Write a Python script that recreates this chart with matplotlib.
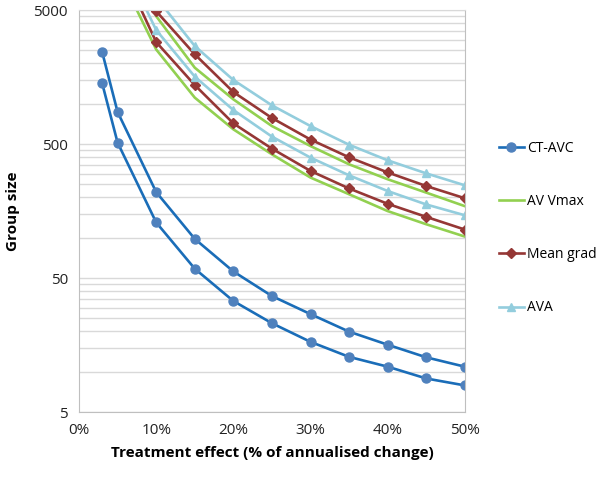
import matplotlib
matplotlib.use("Agg")
import matplotlib.pyplot as plt
from matplotlib.ticker import FixedLocator, NullFormatter, FuncFormatter
from matplotlib.lines import Line2D

plt.rcParams['font.family'] = ['Open Sans', 'DejaVu Sans']

# treatment effect (%)
x_ct = [3, 5, 10, 15, 20, 25, 30, 35, 40, 45, 50]
x_echo = [5, 10, 15, 20, 25, 30, 35, 40, 45, 50]

# group sizes, two lines per measure
ct_hi = [2430, 867, 219, 98, 56, 36.7, 26.9, 19.9, 15.9, 12.8, 10.9]
ct_lo = [1420, 512, 130, 58.7, 33.7, 23, 16.7, 12.9, 10.9, 8.9, 7.9]
vmax_hi = [21000, 4500, 1857, 1078, 681, 483, 353, 273, 217, 172]
vmax_lo = [9800, 2540, 1110, 644, 419, 281, 211, 158, 126, 102]
grad_hi = [20000, 4900, 2337, 1222, 782, 540, 398, 307, 243, 197]
grad_lo = [12000, 2884, 1378, 713, 462, 315, 233, 179, 143, 115]
ava_hi = [25000, 6200, 2693, 1503, 972, 681, 494, 378, 302, 246]
ava_lo = [14000, 3546, 1592, 897, 568, 396, 292, 223, 177, 147]

labels = ['CT-AVC', 'AV Vmax', 'Mean grad', 'AVA']
xticks = [0, 10, 20, 30, 40, 50]
yticks = [5, 50, 500, 5000]

fig = plt.figure(figsize=(6, 4.78), dpi=100)
ax = fig.add_axes([0.1317, 0.138, 0.643, 0.841])

lw = 1.9
styles = {
    'CT-AVC': dict(color='#1A6DB8', marker='o', ms=6.5, mfc='#4F81BD', mec='#4F81BD'),
    'AV Vmax': dict(color='#92D050', marker=None),
    'Mean grad': dict(color='#953735', marker='D', ms=5, mfc='#953735', mec='#953735'),
    'AVA': dict(color='#93CDDD', marker='^', ms=6, mfc='#93CDDD', mec='#93CDDD'),
}

for y in (ct_hi, ct_lo):
    ax.plot(x_ct, y, lw=lw, **styles['CT-AVC'])
for y in (vmax_hi, vmax_lo):
    ax.plot(x_echo, y, lw=lw, **styles['AV Vmax'])
for y in (grad_hi, grad_lo):
    ax.plot(x_echo, y, lw=lw, **styles['Mean grad'])
for y in (ava_hi, ava_lo):
    ax.plot(x_echo, y, lw=lw, **styles['AVA'])

ax.set_yscale('log')
ax.set_ylim(5, 5000)
ax.set_xlim(0, 50)

minor = [k * 5 * 10 ** n for n in range(3) for k in range(2, 10)]
ax.yaxis.set_major_locator(FixedLocator(yticks))
ax.yaxis.set_minor_locator(FixedLocator(minor))
ax.yaxis.set_major_formatter(FuncFormatter(lambda v, p: '%d' % v))
ax.yaxis.set_minor_formatter(NullFormatter())
ax.set_xticks(xticks)
ax.set_xticklabels(['%d%%' % t for t in xticks])

ax.grid(True, which='both', axis='y', color='#D9D9D9', lw=1)
ax.set_axisbelow(True)
ax.tick_params(which='both', length=0, labelsize=11, colors='#222222', pad=8)
for s in ['left', 'bottom', 'right']:
    ax.spines[s].set_color('#BFBFBF')
ax.spines['top'].set_color('#D9D9D9')

ax.set_xlabel('Treatment effect (% of annualised change)', fontsize=11, fontweight='bold', labelpad=6)
ax.set_ylabel('Group size', fontsize=11, fontweight='bold', labelpad=10)

handles = [Line2D([], [], lw=lw, **styles[l]) for l in labels]
leg = fig.legend(handles, labels, loc='upper left', bbox_to_anchor=(0.82, 0.72),
                 frameon=False, fontsize=10, handlelength=1.8, handletextpad=0.25,
                 labelspacing=2.75, borderpad=0)

fig.savefig('out.png', dpi=100)
